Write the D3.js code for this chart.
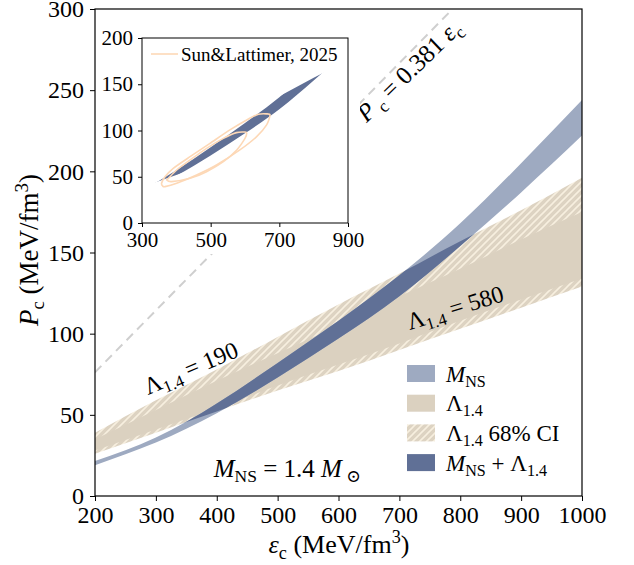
<!DOCTYPE html>
<html>
<head>
<meta charset="utf-8">
<script src="https://cdn.jsdelivr.net/npm/d3@7"></script>
<style>
  body { margin: 0; background: #fff; }
</style>
</head>
<body>
<div id="chart"></div>
<script>
// central energy density grid (MeV/fm^3)
const eps = [200, 300, 400, 500, 600, 700, 800, 900, 1000];
// M_NS = 1.4 band
const mnsLo = [19, 33, 51, 73, 97, 123, 154, 187, 222];
const mnsHi = [21.5, 36, 57, 82, 108, 136, 168, 205, 244];
// Lambda_1.4 band (190 .. 580)
const lamLo = [28, 41, 54, 68, 81, 94, 108, 121, 134];
const lamHi = [35, 53, 71, 88, 105, 123, 140, 158, 175];
// Lambda_1.4 68% CI
const lam68Lo = [26, 39, 52, 65, 77, 90, 103, 116, 129];
const lam68Hi = [39, 59, 78, 98, 118, 137, 157, 176, 196];
// line P = 0.381 eps
const ratioLine = [[200, 76.2], [787.4, 300]];

// Sun & Lattimer 2025 contours (inset)
const slOuter = [[360, 40], [367, 39.3], [401, 42.9], [459, 51.9], [517, 62.7], [585, 79], [634, 93.4], [663, 106],
  [673, 116.8], [662, 118], [639, 117.5], [605, 111.4], [556, 100.6], [498, 86.1], [440, 71.7], [391, 59.1], [367, 50], [357, 43]];
const slInner = [[372, 46.5], [386, 44.7], [440, 48.3], [488, 55.5], [537, 66.3], [576, 79], [600, 91.5], [605, 97],
  [600, 98.3], [575, 97.7], [537, 91.5], [488, 80.7], [440, 68.1], [401, 57.3], [377, 48.3]];

const xTicks = [200, 300, 400, 500, 600, 700, 800, 900, 1000];
const yTicks = [0, 50, 100, 150, 200, 250, 300];
const insetXTicks = [300, 500, 700, 900];
const insetYTicks = [0, 50, 100, 150, 200];

const colLight = "#9eaac1";
const colDark = "#607096";
const colTan = "#dbd1c0";
const colHatchBg = "#ddd3c2";
const colHatchLine = "#f7efdf";
const colPeach = "#fdd8b6";
const SERIF = "'Liberation Serif', 'Times New Roman', 'DejaVu Serif', serif";

const W = 634, H = 565;
const svg = d3.select("#chart").append("svg")
  .attr("width", W)
  .attr("height", H)
  .style("font-family", SERIF);

const defs = svg.append("defs");
const pat = defs.append("pattern")
  .attr("id", "hatch")
  .attr("patternUnits", "userSpaceOnUse")
  .attr("width", 7)
  .attr("height", 7);
pat.append("rect").attr("width", 7).attr("height", 7).attr("fill", colHatchBg);
pat.append("path")
  .attr("d", "M-1,1 l2,-2 M0,7 l7,-7 M6,8 l2,-2")
  .attr("stroke", colHatchLine)
  .attr("stroke-width", 1.6);

const x = d3.scaleLinear().domain([200, 1000]).range([95, 582]);
const y = d3.scaleLinear().domain([0, 300]).range([496, 9]);

const rows = eps.map((e, i) => ({
  e, mlo: mnsLo[i], mhi: mnsHi[i], llo: lamLo[i], lhi: lamHi[i], clo: lam68Lo[i], chi: lam68Hi[i]
}));

function band(xs, ys, lo, hi) {
  return d3.area()
    .x(d => xs(d.e))
    .y0(d => ys(d[lo]))
    .y1(d => ys(d[hi]))
    .curve(d3.curveNatural);
}

// rich text helper: parts = [{t, i, sub, sup}]
function rich(sel, parts, size) {
  let shift = 0;
  parts.forEach(p => {
    const want = p.sub ? size * 0.22 : (p.sup ? -size * 0.38 : 0);
    const t = sel.append("tspan").text(p.t).attr("dy", want - shift);
    shift = want;
    if (p.i) t.style("font-style", "italic");
    if (p.sub || p.sup) t.attr("font-size", size * 0.7);
  });
}

// ---- main plot ----
const main = svg.append("g");
defs.append("clipPath").attr("id", "plotClip")
  .append("rect").attr("x", 95).attr("y", 9).attr("width", 487).attr("height", 487);
defs.append("clipPath").attr("id", "lamClip")
  .append("path").attr("d", band(x, y, "clo", "chi")(rows));

const plot = main.append("g").attr("clip-path", "url(#plotClip)");

plot.append("path")
  .attr("d", d3.line().x(d => x(d[0])).y(d => y(d[1]))(ratioLine))
  .attr("fill", "none")
  .attr("stroke", "#cfcfcf")
  .attr("stroke-width", 2)
  .attr("stroke-dasharray", "9,6");

plot.append("path").attr("d", band(x, y, "clo", "chi")(rows)).attr("fill", "url(#hatch)");
plot.append("path").attr("d", band(x, y, "llo", "lhi")(rows)).attr("fill", colTan);
plot.append("path").attr("d", band(x, y, "mlo", "mhi")(rows)).attr("fill", colLight);
plot.append("path").attr("d", band(x, y, "mlo", "mhi")(rows)).attr("fill", colDark)
  .attr("clip-path", "url(#lamClip)");

// axes
const xAxis = main.append("g")
  .attr("transform", "translate(0,496)")
  .call(d3.axisBottom(x).tickValues(xTicks).tickFormat(d3.format("d")).tickSize(5).tickSizeOuter(0).tickPadding(5));
const yAxis = main.append("g")
  .attr("transform", "translate(95,0)")
  .call(d3.axisLeft(y).tickValues(yTicks).tickFormat(d3.format("d")).tickSize(5).tickSizeOuter(0).tickPadding(6));
[xAxis, yAxis].forEach(a => {
  a.attr("font-family", null);
  a.selectAll("text").attr("font-size", 24).attr("fill", "#000");
  a.selectAll("line").attr("stroke", "#000");
  a.select(".domain").remove();
});
main.append("rect")
  .attr("x", 95).attr("y", 9).attr("width", 487).attr("height", 487)
  .attr("fill", "none").attr("stroke", "#000").attr("stroke-width", 1.2);

// axis labels
const xl = svg.append("text").attr("x", 339).attr("y", 553).attr("text-anchor", "middle").attr("font-size", 26);
rich(xl, [{ t: "ε", i: true }, { t: "c", sub: true }, { t: " (MeV/fm" }, { t: "3", sup: true }, { t: ")" }], 26);
const yl = svg.append("text").attr("transform", "translate(38,250) rotate(-90)").attr("text-anchor", "middle").attr("font-size", 27);
rich(yl, [{ t: "P", i: true }, { t: "c", sub: true }, { t: " (MeV/fm" }, { t: "3", sup: true }, { t: ")" }], 27);

// annotations
function note(e, p, rot, parts, size) {
  const t = svg.append("text")
    .attr("transform", `translate(${x(e)},${y(p)}) rotate(${rot})`)
    .attr("font-size", size);
  rich(t, parts, size);
}
note(287, 62.2, -23, [{ t: "Λ" }, { t: "1.4", sub: true }, { t: " = 190" }], 24);
note(717, 102.3, -17, [{ t: "Λ" }, { t: "1.4", sub: true }, { t: " = 580" }], 24);
note(646, 229.6, -44, [{ t: "P", i: true }, { t: " c", sub: true }, { t: " = 0.381 " }, { t: "ε", i: true }, { t: "c", sub: true }], 25);
note(395, 11.9, 0, [{ t: "M", i: true }, { t: "NS", sub: true }, { t: " = 1.4 " }, { t: "M", i: true }, { t: " ⊙", sub: true }], 25);

// legend
const legendItems = [
  { fill: colLight, parts: [{ t: "M", i: true }, { t: "NS", sub: true }] },
  { fill: colTan, parts: [{ t: "Λ" }, { t: "1.4", sub: true }] },
  { fill: "url(#hatch)", parts: [{ t: "Λ" }, { t: "1.4", sub: true }, { t: " 68% CI" }] },
  { fill: colDark, parts: [{ t: "M", i: true }, { t: "NS", sub: true }, { t: " + " }, { t: "Λ" }, { t: "1.4", sub: true }] }
];
const leg = svg.append("g");
legendItems.forEach((d, i) => {
  const ty = 365 + i * 29.7;
  leg.append("rect").attr("x", 407).attr("y", ty).attr("width", 28).attr("height", 17).attr("fill", d.fill);
  const t = leg.append("text").attr("x", 446).attr("y", ty + 16.5).attr("font-size", 23);
  rich(t, d.parts, 23);
});

// ---- inset ----
const ix = d3.scaleLinear().domain([300, 900]).range([142, 348]);
const iy = d3.scaleLinear().domain([0, 200]).range([223, 38]);
const inset = svg.append("g");
inset.append("rect").attr("x", 98).attr("y", 26).attr("width", 262).attr("height", 228).attr("fill", "#fff");

defs.append("clipPath").attr("id", "lamClipInset")
  .append("path").attr("d", band(ix, iy, "clo", "chi")(rows));
const iplot = inset.append("g");
iplot.append("path").attr("d", band(ix, iy, "mlo", "mhi")(rows)).attr("fill", colDark)
  .attr("clip-path", "url(#lamClipInset)");
const contour = d3.line().x(d => ix(d[0])).y(d => iy(d[1])).curve(d3.curveCardinalClosed.tension(0.3));
[slOuter, slInner].forEach(c => {
  iplot.append("path").attr("d", contour(c)).attr("fill", "none").attr("stroke", colPeach).attr("stroke-width", 1.6);
});

const ixAxis = inset.append("g")
  .attr("transform", "translate(0,223)")
  .call(d3.axisBottom(ix).tickValues(insetXTicks).tickFormat(d3.format("d")).tickSize(4).tickSizeOuter(0).tickPadding(5));
const iyAxis = inset.append("g")
  .attr("transform", "translate(142,0)")
  .call(d3.axisLeft(iy).tickValues(insetYTicks).tickFormat(d3.format("d")).tickSize(4).tickSizeOuter(0).tickPadding(5));
[ixAxis, iyAxis].forEach(a => {
  a.attr("font-family", null);
  a.selectAll("text").attr("font-size", 21).attr("fill", "#000");
  a.selectAll("line").attr("stroke", "#000");
  a.select(".domain").remove();
});
inset.append("rect")
  .attr("x", 142).attr("y", 38).attr("width", 206).attr("height", 185)
  .attr("fill", "none").attr("stroke", "#000").attr("stroke-width", 1);

inset.append("line").attr("x1", 151).attr("x2", 178).attr("y1", 54).attr("y2", 54)
  .attr("stroke", colPeach).attr("stroke-width", 1.6);
inset.append("text").attr("x", 181).attr("y", 61).attr("font-size", 19).text("Sun&Lattimer, 2025");
</script>
</body>
</html>
